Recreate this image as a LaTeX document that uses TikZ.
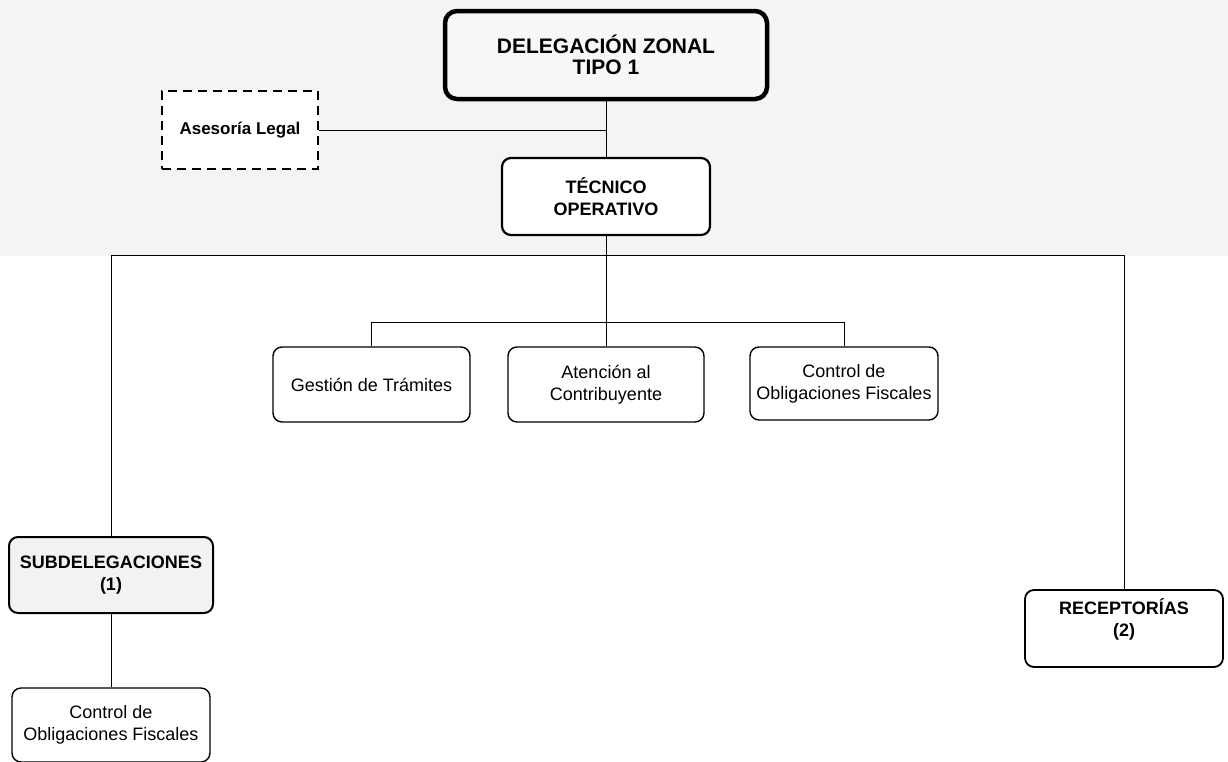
\documentclass[tikz,border=0pt]{standalone}
\usepackage{fontspec}
\setmainfont{Liberation Sans}
\begin{document}
\begin{tikzpicture}[x=1pt,y=-1pt,
  box/.style={draw, rounded corners=9pt, line width=1.4pt, fill=white, align=center,
    inner sep=0pt, font=\fontsize{18}{22}\selectfont},
  hbox/.style={box, font=\fontsize{18}{22}\selectfont\bfseries},
  conn/.style={line width=0.9pt}]
\useasboundingbox (0,0) rectangle (1228,761);
\fill[gray!9] (0,0) rectangle (1228,256);

\node[hbox, line width=4.5pt, rounded corners=12pt, fill=gray!6, minimum width=322pt, minimum height=88pt,
  font=\fontsize{21}{21}\selectfont\bfseries] (del) at (606,55) {DELEGACIÓN ZONAL\\TIPO 1};
\node[draw, dash pattern=on 9pt off 6pt, line width=2pt, fill=white, inner sep=0pt,
  minimum width=156pt, minimum height=78pt, font=\fontsize{17}{20}\selectfont\bfseries] (ase) at (240,130) {Asesoría Legal};
\node[hbox, line width=2.2pt, minimum width=208pt, minimum height=77pt] (tec) at (606,196.5) {TÉCNICO\\OPERATIVO};
\node[box, minimum width=197pt, minimum height=75pt] (ges) at (371.5,384.5) {Gestión de Trámites};
\node[box, minimum width=196pt, minimum height=75pt] (ate) at (606,384.5) {Atención al\\Contribuyente};
\node[box, minimum width=188pt, minimum height=73pt] (cof) at (844,383.5) {Control de\\Obligaciones Fiscales};
\node[hbox, line width=2pt, fill=gray!10, minimum width=204pt, minimum height=76pt] (sub) at (111,575) {SUBDELEGACIONES\\(1)};
\node[hbox, line width=1.8pt, minimum width=198pt, minimum height=77pt,
  font=\fontsize{18}{21.5}\selectfont\bfseries] (rec) at (1124,628.5) {RECEPTORÍAS\\(2)\\\mbox{}};
\node[box, minimum width=198pt, minimum height=74pt] (cof2) at (111,725) {Control de\\Obligaciones Fiscales};

\coordinate (ja) at (606,130);
\coordinate (bus) at (606,255);
\coordinate (sb) at (606,322);

\draw[conn] (del.south) -- (tec.north);
\draw[conn] (ase.east) -- (ja);
\draw[conn] (tec.south) -- (ate.north);
\draw[conn] (sub.north) -- (sub.north |- bus) -- (rec.north |- bus) -- (rec.north);
\draw[conn] (ges.north) -- (ges.north |- sb) -- (cof.north |- sb) -- (cof.north);
\draw[conn] (sub.south) -- (cof2.north);
\end{tikzpicture}
\end{document}
